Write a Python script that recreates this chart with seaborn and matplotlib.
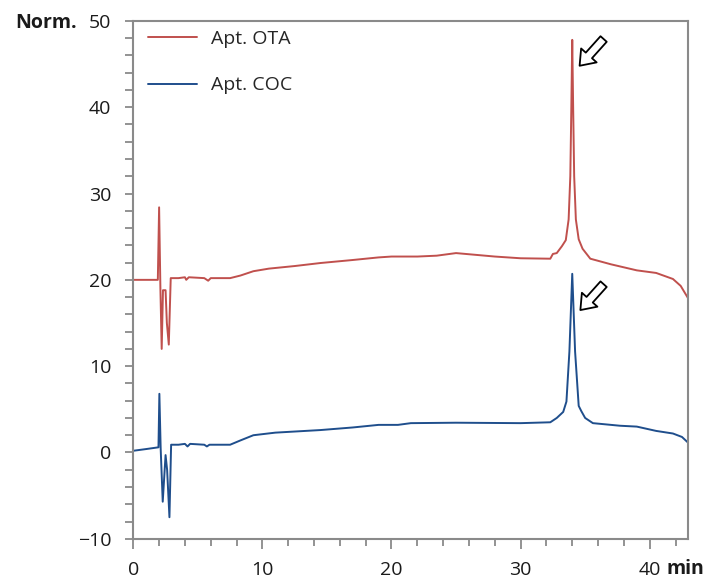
import numpy as np
import pandas as pd
import matplotlib
matplotlib.use("Agg")
import matplotlib.pyplot as plt
from matplotlib.ticker import MultipleLocator
import seaborn as sns

# ---------------- data ----------------
ota_time = [0.0, 1.0, 1.9, 2.0, 2.1, 2.2, 2.3, 2.5, 2.6, 2.75, 2.9, 3.5, 4.0, 4.1, 4.3,
            5.5, 5.8, 6.0, 7.5, 8.3, 9.3, 10.5, 12.5, 14.5, 17, 19, 20, 22, 23.5, 25,
            26.5, 28, 30, 32.3, 32.5, 32.8, 33.2, 33.5, 33.72, 33.85, 33.93, 34.0,
            34.07, 34.15, 34.28, 34.5, 34.8, 35.4, 37, 39, 40.5, 41.8, 42.4, 43.0]
ota_signal = [20.0, 20.0, 20.0, 28.4, 19.0, 12.0, 18.8, 18.8, 15.0, 12.5, 20.2, 20.2, 20.3, 20.0, 20.3,
              20.2, 19.9, 20.2, 20.2, 20.5, 21.0, 21.3, 21.6, 21.95, 22.3, 22.6, 22.7, 22.7, 22.8, 23.1,
              22.9, 22.7, 22.5, 22.45, 23.0, 23.1, 23.9, 24.6, 27.0, 32.0, 40.0, 47.8,
              40.0, 32.0, 27.0, 24.7, 23.6, 22.45, 21.8, 21.1, 20.8, 20.1, 19.3, 17.8]

coc_time = [0.0, 1.0, 1.95, 2.02, 2.12, 2.28, 2.5, 2.62, 2.8, 2.93, 3.5, 4.0, 4.2, 4.4,
            5.5, 5.7, 5.9, 7.5, 8.3, 9.3, 11, 14.5, 17, 19, 20.5, 21.5, 25, 30, 32.3,
            32.8, 33.3, 33.55, 33.78, 34.0, 34.22, 34.5, 34.7, 35.0, 35.6, 37.7, 39,
            40.5, 41.8, 42.5, 43.0]
coc_signal = [0.2, 0.4, 0.6, 6.8, 0.5, -5.7, -0.3, -2.0, -7.5, 0.9, 0.9, 1.0, 0.7, 1.0,
              0.9, 0.7, 0.9, 0.9, 1.4, 2.0, 2.3, 2.6, 2.9, 3.2, 3.2, 3.4, 3.45, 3.4, 3.5,
              4.0, 4.7, 5.9, 11.7, 20.7, 11.7, 5.4, 4.8, 4.0, 3.4, 3.1, 3.0,
              2.5, 2.2, 1.8, 1.1]

labels = ["Apt. OTA", "Apt. COC"]
colors = ["#C0504D", "#1F4E8C"]

df = pd.concat([
    pd.DataFrame({"time": ota_time, "signal": ota_signal, "aptamer": labels[0]}),
    pd.DataFrame({"time": coc_time, "signal": coc_signal, "aptamer": labels[1]}),
])

# ---------------- figure ----------------
sns.set_style("ticks")
plt.rcParams["font.family"] = ["Open Sans", "DejaVu Sans"]

fig = plt.figure(figsize=(7.09, 5.8), dpi=100)
ax = fig.add_axes([0.188, 0.071, 0.783, 0.893])

sns.lineplot(data=df, x="time", y="signal", hue="aptamer", palette=colors,
             estimator=None, sort=False, linewidth=1.4, ax=ax)

ax.set_xlim(0, 43)
ax.set_ylim(-10, 50)
ax.xaxis.set_major_locator(MultipleLocator(10))
ax.xaxis.set_minor_locator(MultipleLocator(2))
ax.yaxis.set_major_locator(MultipleLocator(10))
ax.yaxis.set_minor_locator(MultipleLocator(2))
ax.set_xlabel("")
ax.set_ylabel("")

for sp in ax.spines.values():
    sp.set_visible(True)
    sp.set_color("#8a8a8a")
    sp.set_linewidth(1.5)

ax.tick_params(which="both", direction="out", color="#8a8a8a", width=1.3,
               labelsize=14, labelcolor="#1a1a1a")
ax.tick_params(axis="x", which="major", length=7, pad=9)
ax.tick_params(axis="x", which="minor", length=5)
ax.tick_params(axis="y", which="major", length=6, pad=10)
ax.tick_params(axis="y", which="minor", length=6)

leg = ax.legend(loc="upper left", bbox_to_anchor=(0.0265, 0.982), frameon=False,
                borderaxespad=0, borderpad=0,
                fontsize=14, handlelength=2.5, handletextpad=0.75, labelspacing=1.45)
for line in leg.get_lines():
    line.set_linewidth(1.4)

# hollow arrows pointing at the two peaks
arrow_style = "simple,head_width=1.5,head_length=1.0,tail_width=0.6"
ax.annotate("", xy=(34.57, 44.8), xytext=(36.43, 47.9),
            arrowprops=dict(arrowstyle=arrow_style, fc="white", ec="black", lw=1.3,
                            shrinkA=0, shrinkB=0, mutation_scale=10))
ax.annotate("", xy=(34.63, 16.5), xytext=(36.43, 19.5),
            arrowprops=dict(arrowstyle=arrow_style, fc="white", ec="black", lw=1.3,
                            shrinkA=0, shrinkB=0, mutation_scale=10))

fig.text(15 / 709, 1 - 28 / 580, "Norm.", fontsize=14, fontweight="bold",
         ha="left", va="baseline", color="#1a1a1a")
fig.text(667 / 709, 1 - 579 / 580, "min", fontsize=14, fontweight="bold",
         ha="left", va="bottom", color="#1a1a1a")

fig.savefig("out.png", dpi=100)
